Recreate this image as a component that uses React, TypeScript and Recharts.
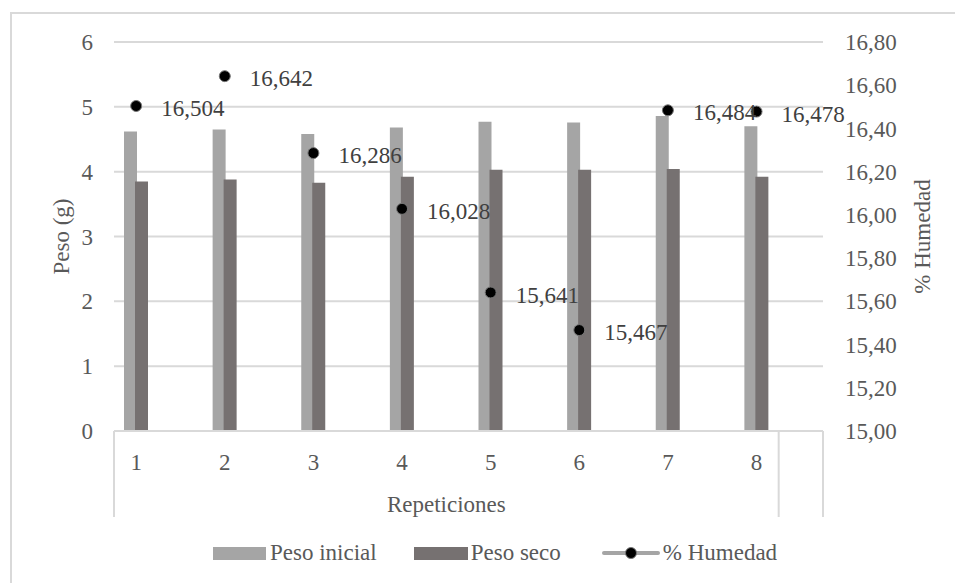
import React from 'react';
import { ComposedChart, Bar, Line, XAxis, YAxis, CartesianGrid, Legend, LabelList } from 'recharts';

const repeticiones = ['1', '2', '3', '4', '5', '6', '7', '8'];
const pesoInicial = [4.62, 4.65, 4.58, 4.68, 4.77, 4.76, 4.86, 4.70];
const pesoSeco = [3.85, 3.88, 3.83, 3.92, 4.03, 4.03, 4.04, 3.92];
const humedad = [16.504, 16.642, 16.286, 16.028, 15.641, 15.467, 16.484, 16.478];
const leftTicks = [0, 1, 2, 3, 4, 5, 6];
const rightTicks = [15.0, 15.2, 15.4, 15.6, 15.8, 16.0, 16.2, 16.4, 16.6, 16.8];
const groupTitle = 'Repeticiones';

// Excel sheet layout: each repetition followed by an empty row
const data: any[] = [];
repeticiones.forEach((r, i) => {
  data.push({ cat: r, pi: pesoInicial[i], ps: pesoSeco[i], h: humedad[i] });
  data.push({ cat: '', pi: null, ps: null, h: null });
});

const FONT = "'Liberation Serif', 'Times New Roman', serif";
const FS = 23;
const TXT = '#595959';
const GRID = '#D9D9D9';
const W = 955;
const H = 583;
const PLOT_LEFT = 114;
const PLOT_RIGHT = 823;
const BAND = (PLOT_RIGHT - PLOT_LEFT) / data.length;
const XAXIS_H = 86;

const fmt = (v: number, d: number) => v.toFixed(d).replace('.', ',');

const XTick = (props: any) => {
  const { x, y, payload, index } = props;
  const n = data.length;
  return (
    <g>
      {payload.value !== '' && (
        <text x={x} y={y + 31} dy="0.35em" textAnchor="middle" fill={TXT} fontSize={FS} fontFamily={FONT}>
          {payload.value}
        </text>
      )}
      {index === 0 && <line x1={x - BAND / 2} x2={x - BAND / 2} y1={y} y2={y + XAXIS_H} stroke={GRID} strokeWidth={2} />}
      {index === n - 1 && (
        <>
          <line x1={x - BAND / 2} x2={x - BAND / 2} y1={y} y2={y + XAXIS_H} stroke={GRID} strokeWidth={2} />
          <line x1={x + BAND / 2} x2={x + BAND / 2} y1={y} y2={y + XAXIS_H} stroke={GRID} strokeWidth={2} />
        </>
      )}
      {index === Math.floor((n - 1) / 2) && (
        <text x={x} y={y + 73} dy="0.35em" textAnchor="middle" fill={TXT} fontSize={FS} fontFamily={FONT}>
          {groupTitle}
        </text>
      )}
    </g>
  );
};

const AxisTitle = (props: any) => {
  const { viewBox, value, dx } = props;
  const cx = viewBox.x + dx;
  const cy = viewBox.y + viewBox.height / 2;
  return (
    <text x={cx} y={cy} dy="0.35em" textAnchor="middle" transform={`rotate(-90 ${cx} ${cy})`} fill={TXT} fontSize={FS} fontFamily={FONT}>
      {value}
    </text>
  );
};

const HumDot = (props: any) => {
  const { cx, cy, value, index } = props;
  if (value == null || cy == null || isNaN(cy)) return <g key={`d${index}`} />;
  return <circle key={`d${index}`} cx={cx} cy={cy} r={5.5} fill="#000" stroke="#777" strokeWidth={1} />;
};

const HumLabel = (props: any) => {
  const { x, y, value } = props;
  if (value == null) return null;
  return (
    <text x={x + 25} y={y + 2} dy="0.35em" textAnchor="start" fill="#404040" fontSize={FS} fontFamily={FONT}>
      {fmt(value, 3)}
    </text>
  );
};

const LegendContent = () => {
  const item: React.CSSProperties = { display: 'flex', alignItems: 'center' };
  const label: React.CSSProperties = { fontFamily: FONT, fontSize: FS, color: TXT, lineHeight: '24px', whiteSpace: 'nowrap' };
  return (
    <div style={{ height: 66, paddingTop: 24, boxSizing: 'border-box', display: 'flex', paddingLeft: 213 }}>
      <div style={{ ...item, height: 24 }}>
        <div style={{ width: 53, height: 13, background: '#A5A5A5', marginRight: 4 }} />
        <span style={label}>Peso inicial</span>
      </div>
      <div style={{ ...item, height: 24, marginLeft: 37 }}>
        <div style={{ width: 54, height: 13, background: '#767171', marginRight: 3 }} />
        <span style={label}>Peso seco</span>
      </div>
      <div style={{ ...item, height: 24, marginLeft: 41 }}>
        <svg width={58} height={16} style={{ marginRight: 3 }}>
          <line x1={2} x2={56} y1={8} y2={8} stroke="#A5A5A5" strokeWidth={4} strokeLinecap="round" />
          <circle cx={29} cy={8} r={5.5} fill="#000" stroke="#777" strokeWidth={1} />
        </svg>
        <span style={label}>% Humedad</span>
      </div>
    </div>
  );
};

export default function App() {
  return (
    <div style={{ position: 'absolute', left: 0, top: 0, width: W, height: H, background: '#fff' }}>
      <div style={{ position: 'absolute', left: 10, top: 12, width: W - 10, height: H - 12, borderLeft: '2px solid #D9D9D9', borderTop: '2px solid #D9D9D9', boxSizing: 'border-box' }} />
      <ComposedChart width={W} height={H} data={data} margin={{ top: 42, right: 0, bottom: 0, left: 0 }} barSize={13} barGap={-2}>
        <CartesianGrid yAxisId="left" vertical={false} stroke={GRID} strokeWidth={2} />
        <XAxis
          dataKey="cat"
          interval={0}
          tickLine={false}
          tickSize={0}
          tickMargin={0}
          axisLine={{ stroke: GRID, strokeWidth: 2 }}
          height={XAXIS_H}
          tick={<XTick />}
        />
        <YAxis
          yAxisId="left"
          orientation="left"
          width={PLOT_LEFT}
          domain={[0, 6]}
          ticks={leftTicks}
          axisLine={false}
          tickLine={false}
          tickSize={0}
          tickMargin={21}
          tick={{ fill: TXT, fontSize: FS, fontFamily: FONT }}
          label={<AxisTitle value="Peso (g)" dx={61} />}
        />
        <YAxis
          yAxisId="right"
          orientation="right"
          width={W - PLOT_RIGHT}
          domain={[15, 16.8]}
          ticks={rightTicks}
          axisLine={false}
          tickLine={false}
          tickSize={0}
          tickMargin={22}
          tickFormatter={(v: number) => fmt(v, 2)}
          tick={{ fill: TXT, fontSize: FS, fontFamily: FONT }}
          label={<AxisTitle value="% Humedad" dx={99} />}
        />
        <Legend verticalAlign="bottom" content={<LegendContent />} />
        <Bar yAxisId="left" dataKey="pi" name="Peso inicial" fill="#A5A5A5" isAnimationActive={false} />
        <Bar yAxisId="left" dataKey="ps" name="Peso seco" fill="#767171" isAnimationActive={false} />
        <Line
          yAxisId="right"
          dataKey="h"
          name="% Humedad"
          stroke="#A5A5A5"
          strokeWidth={4}
          connectNulls={false}
          dot={(p: any) => <HumDot {...p} />}
          activeDot={false}
          isAnimationActive={false}
        >
          <LabelList dataKey="h" content={<HumLabel />} />
        </Line>
      </ComposedChart>
    </div>
  );
}
